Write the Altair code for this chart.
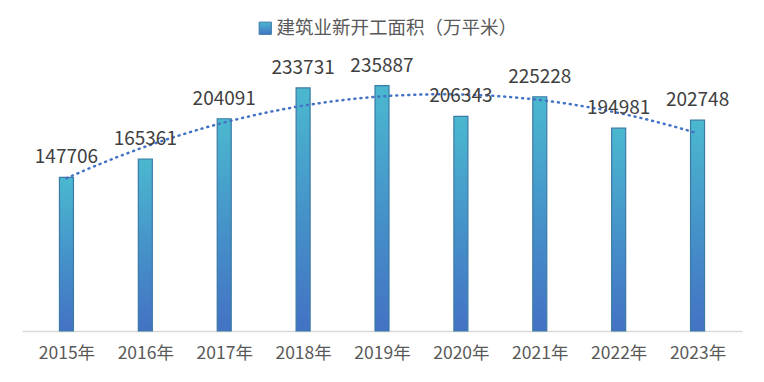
import json
import altair as alt
import pandas as pd

years = ["2015年", "2016年", "2017年", "2018年", "2019年", "2020年", "2021年", "2022年", "2023年"]
values = [147706, 165361, 204091, 233731, 235887, 206343, 225228, 194981, 202748]
series_name = "建筑业新开工面积（万平米）"

df = pd.DataFrame({
    "idx": list(range(len(years))),
    "year": years,
    "value": values,
    "series": [series_name] * len(years),
})

FONT = "Noto Sans CJK SC"

x = alt.X(
    "idx:Q",
    scale=alt.Scale(domain=[-0.5, len(years) - 0.5], nice=False, zero=False),
    axis=alt.Axis(
        title=None,
        values=list(range(len(years))),
        labelExpr=json.dumps(years, ensure_ascii=False) + "[datum.value]",
        ticks=False,
        grid=False,
        domainColor="#D9D9D9",
        domainWidth=1.5,
        labelColor="#595959",
        labelFontSize=17.5,
        labelFont=FONT,
        labelPadding=13,
        labelFlush=False,
    ),
)
y = alt.Y("value:Q", scale=alt.Scale(domain=[0, 250000], nice=False), axis=None)

bars = alt.Chart(df).mark_bar(
    size=14,
    strokeWidth=1.2,
    fill=alt.Gradient(
        gradient="linear",
        x1=0, y1=0, x2=0, y2=1,
        stops=[
            alt.GradientStop(color="#4BB8CF", offset=0),
            alt.GradientStop(color="#4590C9", offset=0.55),
            alt.GradientStop(color="#4472C4", offset=1),
        ],
    ),
).encode(
    x=x,
    y=y,
    stroke=alt.Stroke(
        "series:N",
        scale=alt.Scale(range=["#3A7AA6"]),
        legend=alt.Legend(
            title=None,
            orient="none",
            legendX=234,
            legendY=-52,
            symbolType="square",
            symbolSize=150,
            symbolFillColor="#3E98CF",
            symbolStrokeWidth=1,
            labelFontSize=18.5,
            labelFont=FONT,
            labelColor="#595959",
            labelOffset=2,
            labelLimit=0,
        ),
    ),
)

trend = alt.Chart(df).transform_regression(
    "idx", "value", method="poly", order=2
).mark_line(
    color="#4472C4", strokeWidth=2.5, strokeDash=[1, 5], strokeCap="round"
).encode(x=x, y=y)

labels = alt.Chart(df).mark_text(
    fontSize=19, font=FONT, color="#404040", baseline="alphabetic", dy=-14
).encode(x=x, y=y, text=alt.Text("value:Q", format="d"))

chart = alt.layer(bars, trend, labels).properties(
    width=720,
    height=260,
    autosize=alt.AutoSizeParams(type="none"),
    padding={"left": 14, "top": 63, "right": 14, "bottom": 40},
).configure_view(stroke=None)

chart.save("out.html", embed_options={"renderer": "svg", "actions": False})
